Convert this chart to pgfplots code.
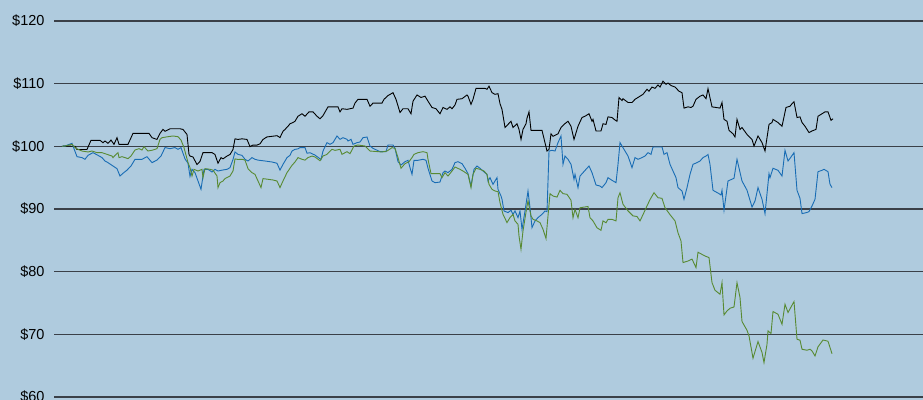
\documentclass[border=0pt]{standalone}
\usepackage{fontspec}
\setmainfont{Liberation Sans}
\usepackage{pgfplots}
\pgfplotsset{compat=1.18}

\definecolor{bgblue}{RGB}{175,203,222}
\definecolor{gridc}{RGB}{58,64,72}
\definecolor{lineblue}{RGB}{24,108,180}
\definecolor{linegreen}{RGB}{88,138,50}

\begin{document}
\begin{tikzpicture}
  \useasboundingbox (0,0) rectangle (923bp,400bp);
  \fill[bgblue] (0,0) rectangle (923bp,400bp);
  \begin{axis}[
      at={(54bp,3bp)}, anchor=south west,
      scale only axis, width=869bp, height=376bp,
      xmin=54, xmax=923, ymin=60, ymax=120,
      xtick=\empty,
      ytick={60,70,...,120},
      ymajorgrids,
      major grid style={gridc, line width=1.4bp},
      axis line style={draw=none},
      major tick length=0pt,
      /pgf/number format/assume math mode=true,
      yticklabel={\$\pgfmathprintnumber{\tick}},
      yticklabel style={font=\fontsize{14.5bp}{16bp}\selectfont, anchor=east, xshift=-6bp},
      clip=false,
    ]
    \addplot[black, line width=0.9bp] coordinates {
      (62,100.0) (65,100.05) (75,100.0) (77,99.5) (87,99.5) (91,100.96) (100,100.96) (103,100.58) (105,100.85) (108,100.48) (111,101.0) (114,100.32) (117,101.38) (119,100.32) (128,100.32) (133,102.07) (149,102.07) (152,101.38) (157,101.1) (160,102.07) (163,102.7) (165,102.4) (170,102.8) (180,102.8) (183,102.7) (187,101.9) (189,98.7) (190,98.45) (193,98.3) (197,97.1) (200,97.6) (203,99.0) (212,99.0) (215,98.7) (218,97.3) (221,98.2) (223,98.0) (227,98.45) (230,98.7) (233,99.5) (235,101.2) (238,101.1) (242,101.2) (247,101.1) (250,99.95) (253,100.2) (257,100.2) (260,100.4) (263,101.1) (267,101.5) (272,101.6) (277,101.7) (280,101.4) (283,102.4) (285,102.7) (288,103.2) (290,103.6) (293,103.8) (295,104.0) (298,104.8) (302,105.2) (305,104.8) (309,105.5) (313,105.5) (317,104.8) (320,104.4) (323,104.9) (328,106.3) (338,106.3) (340,105.5) (342,106.0) (347,105.9) (350,106.0) (353,106.1) (355,106.9) (358,107.5) (367,107.5) (370,106.4) (373,106.9) (382,106.9) (384,107.5) (388,108.1) (393,108.56) (396,107.5) (400,105.4) (403,106.0) (408,106.0) (411,105.2) (413,107.2) (417,108.2) (421,107.8) (425,108.0) (428,107.2) (432,106.2) (436,106.0) (440,105.2) (443,106.2) (447,105.9) (450,106.3) (452,106.0) (455,106.6) (457,107.5) (462,107.6) (467,108.2) (468,108.0) (471,106.7) (473,107.5) (476,109.25) (485,109.25) (487,109.1) (489,109.6) (492,108.56) (495,108.3) (498,108.4) (500,106.8) (502,105.9) (505,103.0) (508,103.5) (511,104.0) (513,103.0) (517,103.6) (519,102.7) (521,101.1) (523,102.7) (526,103.6) (527,104.5) (529,105.5) (531,102.55) (542,102.55) (547,99.25) (549,99.5) (551,102.0) (553,101.6) (558,102.0) (561,103.0) (564,103.5) (568,104.0) (571,103.2) (574,101.1) (578,103.2) (582,104.6) (585,104.8) (589,105.2) (592,104.0) (593,104.3) (596,102.45) (601,102.45) (603,103.6) (606,103.5) (608,104.7) (612,104.6) (615,104.2) (617,104.0) (619,107.8) (622,107.3) (623,107.6) (628,107.0) (632,107.0) (635,107.5) (640,108.0) (643,108.3) (647,109.1) (649,108.8) (652,109.46) (655,109.25) (658,109.8) (660,109.46) (663,110.4) (666,109.9) (668,110.1) (671,109.7) (675,109.46) (679,108.8) (682,108.56) (684,106.1) (688,106.3) (691,106.2) (693,106.4) (696,107.5) (700,108.0) (703,108.2) (706,107.6) (708,109.2) (712,106.3) (720,106.1) (722,107.0) (724,104.3) (727,104.0) (729,102.55) (733,102.0) (735,101.5) (737,104.3) (740,102.7) (742,103.0) (747,101.9) (750,101.4) (752,101.1) (754,100.05) (758,101.65) (762,100.6) (765,99.25) (769,103.5) (772,103.8) (773,104.3) (778,103.8) (782,103.2) (786,106.2) (790,106.4) (792,106.8) (794,107.1) (797,104.6) (800,104.7) (802,103.8) (805,103.2) (809,102.2) (812,102.45) (816,102.7) (818,104.8) (822,105.2) (825,105.5) (828,105.5) (831,104.15) (833,104.4)
    };
    \addplot[lineblue, line width=0.9bp] coordinates {
      (62,100.0) (65,100.05) (72,100.48) (73,100.05) (77,98.35) (82,98.2) (85,97.93) (88,98.56) (93,98.99) (98,98.56) (102,98.2) (105,97.66) (108,97.4) (113,96.86) (117,96.44) (120,95.26) (123,95.7) (127,96.2) (131,96.86) (135,97.93) (142,97.93) (147,98.35) (152,97.4) (157,97.8) (161,98.45) (165,99.8) (170,99.63) (175,99.8) (178,99.52) (181,99.8) (185,98.0) (188,97.3) (190,95.2) (192,96.33) (195,95.8) (198,94.47) (201,93.14) (204,96.33) (208,96.33) (212,95.9) (215,96.33) (218,96.06) (222,96.2) (227,96.33) (230,96.6) (233,97.9) (235,99.1) (238,98.72) (242,98.56) (245,97.93) (248,97.66) (252,98.2) (255,97.93) (258,97.8) (265,97.66) (272,97.5) (277,97.3) (280,96.2) (283,97.13) (287,98.2) (290,98.56) (292,99.25) (295,99.52) (298,99.6) (300,99.8) (305,99.8) (307,98.9) (310,98.98) (315,98.6) (321,97.9) (323,99.25) (327,100.59) (330,100.32) (333,100.59) (337,101.65) (340,101.12) (343,101.38) (347,101.12) (348,100.85) (351,101.12) (353,100.32) (357,100.59) (360,100.69) (363,101.38) (367,101.49) (370,100.05) (373,99.68) (380,99.15) (386,99.15) (388,100.21) (393,100.21) (395,99.68) (398,97.55) (401,97.02) (405,97.55) (408,97.77) (410,96.6) (412,95.53) (414,97.77) (418,97.77) (423,97.93) (426,97.77) (428,96.5) (432,94.47) (435,94.2) (440,94.3) (443,95.8) (445,96.06) (448,95.8) (452,96.33) (455,97.4) (458,97.55) (462,97.24) (465,96.5) (468,95.64) (471,93.67) (474,96.33) (477,96.86) (480,96.5) (483,96.06) (487,95.53) (488,94.47) (490,95.0) (493,93.94) (497,95.0) (498,93.14) (501,92.07) (502,91.55) (504,89.68) (508,89.43) (511,89.8) (513,89.15) (515,89.68) (518,88.63) (520,89.68) (522,86.76) (525,89.68) (528,92.87) (530,90.22) (532,87.03) (535,88.09) (538,88.63) (542,89.15) (545,89.68) (547,89.58) (549,99.25) (552,99.36) (555,99.25) (558,100.59) (561,101.65) (563,97.13) (565,98.45) (568,97.93) (571,97.13) (574,94.74) (575,95.53) (578,93.41) (580,95.26) (583,95.8) (589,96.86) (592,95.8) (596,93.83) (600,93.67) (602,93.41) (606,94.2) (608,95.0) (612,94.58) (616,94.2) (618,97.13) (620,100.59) (623,99.79) (628,98.45) (632,96.6) (635,98.2) (638,97.93) (642,98.2) (645,98.45) (648,98.99) (651,98.72) (653,99.9) (662,99.9) (664,98.72) (667,98.99) (670,97.13) (673,96.06) (676,95.0) (678,93.41) (682,92.87) (684,91.55) (687,93.41) (690,95.53) (693,97.13) (697,97.4) (700,97.66) (703,98.2) (706,98.45) (708,98.7) (710,97.1) (713,92.98) (719,92.45) (721,92.23) (722,92.98) (724,89.8) (728,94.47) (734,94.9) (737,97.93) (742,94.47) (747,93.0) (752,90.32) (755,91.28) (758,93.41) (762,91.55) (765,89.26) (769,95.64) (770,95.0) (773,96.5) (778,96.17) (782,95.26) (785,99.36) (788,97.66) (791,98.3) (794,98.99) (797,92.98) (800,91.7) (802,89.26) (807,89.45) (809,89.58) (812,90.48) (815,91.55) (818,95.96) (822,96.17) (824,96.33) (828,95.96) (830,93.94) (832,93.41)
    };
    \addplot[linegreen, line width=0.9bp] coordinates {
      (62,100.0) (65,100.05) (72,100.32) (75,99.8) (78,99.52) (82,99.25) (88,99.1) (92,99.25) (97,98.99) (102,98.99) (107,98.72) (112,98.45) (113,98.2) (115,98.56) (118,98.99) (119,98.2) (122,98.35) (125,98.2) (128,98.04) (131,98.45) (135,99.41) (139,99.63) (142,99.41) (144,99.95) (147,99.41) (148,99.25) (153,99.41) (157,99.63) (160,101.12) (162,101.38) (168,101.54) (173,101.65) (178,101.54) (181,101.0) (184,99.8) (188,97.4) (190,96.6) (192,95.26) (194,96.33) (198,96.06) (202,96.33) (203,95.0) (205,96.44) (210,96.33) (213,96.2) (217,95.26) (218,93.41) (220,94.2) (223,94.47) (225,94.85) (230,95.26) (233,96.06) (235,98.0) (238,97.9) (242,97.93) (245,97.8) (248,96.44) (252,95.8) (255,95.53) (258,94.47) (261,93.41) (263,94.85) (268,94.74) (273,94.63) (277,94.47) (280,93.41) (283,94.47) (287,95.8) (292,96.97) (295,97.5) (298,98.2) (302,97.93) (305,97.8) (308,98.2) (312,98.45) (315,98.3) (320,97.7) (323,98.45) (327,98.72) (332,99.52) (335,99.36) (340,99.52) (342,98.72) (347,99.15) (350,98.83) (354,100.05) (358,100.21) (365,100.05) (370,99.25) (382,99.1) (387,99.25) (392,99.79) (395,99.68) (398,98.2) (401,96.5) (405,97.24) (409,97.55) (412,98.2) (414,98.72) (418,98.99) (423,99.15) (427,98.99) (428,97.93) (431,95.64) (435,95.64) (440,95.64) (442,95.0) (445,95.8) (448,95.26) (452,96.06) (455,96.7) (460,96.33) (463,96.06) (468,95.53) (471,93.41) (473,95.53) (476,96.5) (480,96.33) (484,96.06) (487,95.53) (489,93.94) (492,93.14) (495,92.87) (498,92.77) (500,91.02) (503,89.15) (507,87.83) (510,88.63) (513,89.15) (515,88.09) (518,87.56) (519,85.7) (521,83.57) (523,86.5) (527,90.48) (528,91.28) (531,88.9) (533,88.36) (537,88.09) (540,87.83) (543,86.76) (546,85.28) (548,88.9) (550,92.45) (553,92.07) (557,91.9) (560,92.98) (563,92.45) (567,92.34) (571,91.39) (573,88.6) (575,89.95) (578,88.6) (580,90.2) (588,90.4) (590,88.6) (593,88.1) (597,87.0) (601,86.6) (603,88.1) (606,87.8) (608,88.35) (612,88.35) (616,88.1) (618,91.8) (620,92.6) (623,90.75) (628,89.7) (633,88.9) (637,88.8) (640,88.1) (643,89.1) (647,90.5) (650,91.5) (654,92.6) (658,91.8) (662,91.7) (665,90.2) (670,89.1) (675,88.1) (678,86.2) (681,84.9) (683,81.45) (688,81.7) (692,82.0) (696,80.65) (698,83.1) (705,82.5) (709,82.25) (712,78.25) (715,77.03) (720,76.4) (722,78.25) (724,73.1) (727,73.73) (730,74.16) (734,74.37) (737,78.25) (740,75.87) (742,72.04) (747,70.65) (749,69.75) (753,66.19) (758,68.85) (762,67.1) (764,65.5) (767,68.42) (768,70.55) (771,70.13) (773,73.64) (778,73.2) (782,71.6) (785,74.8) (788,73.48) (794,75.23) (797,69.22) (800,69.06) (802,67.62) (807,67.46) (810,67.62) (812,67.35) (815,66.55) (818,68.0) (823,69.1) (828,68.9) (832,66.9)
    };
  \end{axis}
\end{tikzpicture}
\end{document}
